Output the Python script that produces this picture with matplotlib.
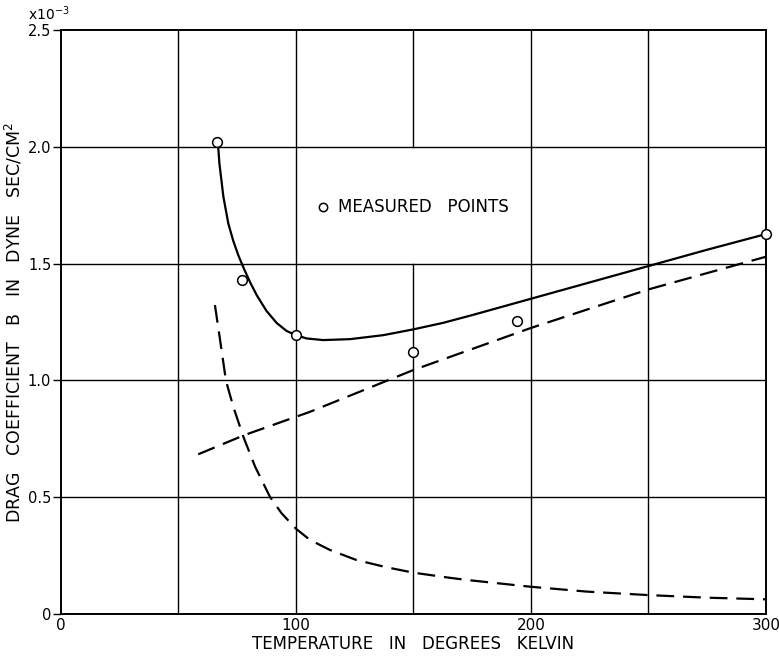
#!/usr/bin/env python

"""
Drag coefficient B versus temperature, measured points with fitted curves.
"""

import matplotlib.pyplot as plt

# Measured points (temperature K, B in units of 1e-3 dyne sec/cm^2)
meas_t = [66.5, 77.0, 100.0, 150.0, 194.0, 300.0]
meas_b = [2.02, 1.43, 1.193, 1.12, 1.254, 1.627]

# Solid curve through the measurements
solid_t = [66.95, 67.4, 69.1, 71.2, 73.3, 75.5, 78.0, 80.5, 83.3, 87.5,
           91.8, 96.0, 100.0, 104.5, 111.6, 123.0, 137.1, 150.0, 162.7,
           175.0, 200.0, 225.0, 250.0, 275.0, 300.0]
solid_b = [1.993, 1.930, 1.787, 1.672, 1.598, 1.535, 1.475, 1.420, 1.365,
           1.297, 1.246, 1.212, 1.194, 1.180, 1.173, 1.177, 1.194, 1.219,
           1.247, 1.280, 1.350, 1.420, 1.490, 1.560, 1.627]

# Rising dashed line
lin_t = [58.4, 78.0, 106.0, 150.0, 200.0, 250.0, 300.0]
lin_b = [0.684, 0.766, 0.866, 1.045, 1.225, 1.390, 1.530]

# Falling dashed curve
dec_t = [65.5, 67.7, 70.2, 73.3, 77.6, 82.6, 88.9, 93.9, 100.0, 106.0,
         114.5, 125.8, 138.6, 150.0, 165.5, 172.6, 199.6, 223.7, 250.0,
         274.8, 299.6]
dec_b = [1.323, 1.173, 0.999, 0.888, 0.759, 0.631, 0.502, 0.431, 0.365,
         0.317, 0.274, 0.231, 0.200, 0.177, 0.155, 0.146, 0.117, 0.096,
         0.081, 0.070, 0.063]

XTICKS = [0, 100, 200, 300]
YTICKS = [0, 0.5, 1.0, 1.5, 2.0, 2.5]
YTICKLABELS = ['0', '0.5', '1.0', '1.5', '2.0', '2.5']


def main():
    fig = plt.figure(figsize=(7.79, 6.56), dpi=100, facecolor='w')
    ax = fig.add_axes([0.0783, 0.064, 0.905, 0.890])
    ax.set_xlim(0, 300)
    ax.set_ylim(0, 2.5)

    # hand-ruled grid; the 150 K rule is left open behind the legend
    for y in [0.5, 1.0, 1.5, 2.0]:
        ax.axhline(y, color='k', lw=1.0, zorder=1)
    for x in [50, 100, 200, 250]:
        ax.axvline(x, color='k', lw=1.0, zorder=1)
    ax.plot([150, 150], [0, 1.5], color='k', lw=1.0, zorder=1)
    ax.plot([150, 150], [2.0, 2.5], color='k', lw=1.0, zorder=1)
    for s in ax.spines.values():
        s.set_linewidth(1.4)

    ax.plot(solid_t, solid_b, color='k', lw=1.6, zorder=3)
    ax.plot(lin_t, lin_b, color='k', lw=1.6, dashes=(8, 4), zorder=3)
    ax.plot(dec_t, dec_b, color='k', lw=1.6, dashes=(8, 4), zorder=3)
    ax.plot(meas_t, meas_b, 'o', ms=7, mfc='w', mec='k', mew=1.1, zorder=4,
            clip_on=False)

    ax.set_xticks(XTICKS)
    ax.set_xticklabels([str(t) for t in XTICKS])
    ax.set_yticks(YTICKS)
    ax.set_yticklabels(YTICKLABELS)
    ax.tick_params(axis='x', length=0, pad=3, labelsize=11)
    ax.tick_params(axis='y', length=6, width=1.0, pad=1, labelsize=10.5)

    ax.set_xlabel('TEMPERATURE   IN   DEGREES   KELVIN', fontsize=12,
                  labelpad=1)
    ax.set_ylabel('DRAG   COEFFICIENT   B   IN   DYNE   SEC/CM$^2$',
                  fontsize=12.5, labelpad=2)

    ax.text(-0.047, 1.012, r'x10$^{-3}$', transform=ax.transAxes,
            fontsize=10, ha='left', va='bottom')

    # legend written on the chart
    ax.plot([111.5], [1.742], 'o', ms=6, mfc='w', mec='k', mew=1.1, zorder=4)
    ax.text(118, 1.742, 'MEASURED   POINTS', fontsize=12, va='center')

    fig.savefig('out.png', dpi=100)


if __name__ == "__main__":
    main()
